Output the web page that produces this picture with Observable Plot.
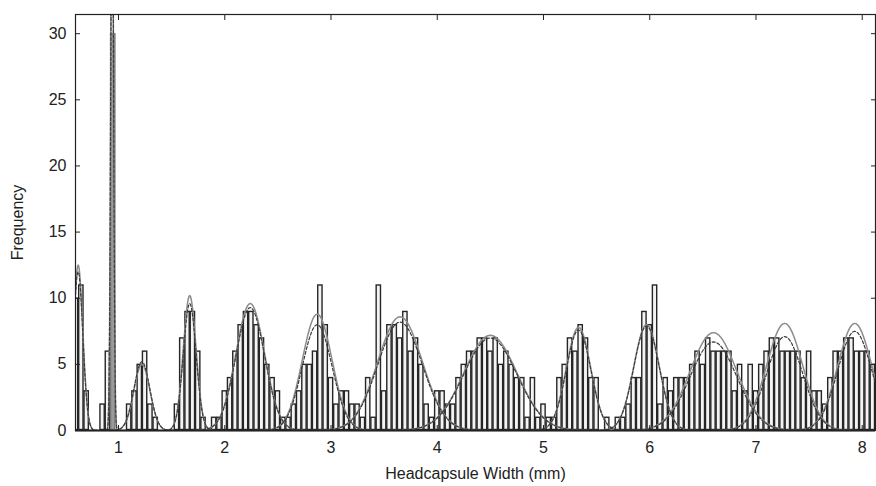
<!DOCTYPE html>
<html><head><meta charset="utf-8">
<script src="https://cdn.jsdelivr.net/npm/d3@7"></script>
<script src="https://cdn.jsdelivr.net/npm/@observablehq/plot@0.6"></script>
<style>body{margin:0;background:#fff}</style>
</head><body><div id="chart"></div>
<script>
// Histogram: bins of width 0.05 mm, first bin centred at 0.60 mm
const binStart = 0.60;
const binWidth = 0.05;
const counts = [
  10, 11, 3, 0, 0, 2, 6, 30,                                   // 0.60–0.95
  0, 0, 2, 3, 5, 6, 2, 1, 0, 0, 0, 2, 7, 9, 9, 6, 1, 0, 1, 1,    // 1.00–1.95
  3, 4, 6, 8, 9, 9, 8, 7, 5, 4, 3, 1, 1, 2, 3, 5, 5, 6, 11, 8,   // 2.00–2.95
  4, 2, 3, 3, 2, 2, 1, 4, 1, 11, 3, 8, 8, 7, 9, 6, 7, 5, 2, 1,   // 3.00–3.95
  3, 3, 2, 2, 4, 5, 6, 6, 7, 7, 6, 7, 5, 6, 5, 4, 4, 1, 4, 1,    // 4.00–4.95
  2, 1, 1, 4, 5, 7, 6, 8, 7, 4, 4, 0, 1, 0, 1, 1, 2, 4, 4, 9,    // 5.00–5.95
  8, 11, 2, 4, 3, 4, 4, 4, 5, 6, 5, 7, 6, 6, 6, 6, 3, 5, 3, 5,   // 6.00–6.95
  3, 5, 6, 7, 7, 6, 6, 6, 6, 4, 6, 3, 3, 2, 4, 6, 6, 7, 7, 6,    // 7.00–7.95
  6, 6, 5, 5                                                   // 8.00–8.15
];

// Fitted normal components (one per instar)
const compMeans = [0.62, 0.94, 1.22, 1.67, 2.24, 2.87, 3.65, 4.50, 5.33, 5.97, 6.60, 7.27, 7.93];
const compSds   = [0.044, 0.013, 0.075, 0.060, 0.135, 0.140, 0.210, 0.250, 0.115, 0.120, 0.220, 0.170, 0.160];
const peaksFitA = [12.5, 45, 5.0, 10.2, 9.6, 8.8, 8.6, 7.2, 7.8, 8.0, 7.4, 8.1, 8.1];   // solid grey fit
const peaksFitB = [12.0, 45, 5.2, 9.6, 9.3, 8.0, 8.2, 7.0, 7.6, 7.9, 6.7, 7.1, 7.5];    // dashed dark fit

const xTicks = [1, 2, 3, 4, 5, 6, 7, 8];
const yTicks = [0, 5, 10, 15, 20, 25, 30];

const bins = counts.map((n, i) => {
  const c = binStart + i * binWidth;
  return {x1: c - binWidth / 2, x2: c + binWidth / 2, n};
});

function curve(peaks, fit) {
  const out = [];
  compMeans.forEach((m, k) => {
    const s = compSds[k];
    const steps = 80;
    for (let j = 0; j <= steps; j++) {
      const x = m - 4 * s + (8 * s * j) / steps;
      out.push({comp: k, fit, x, y: peaks[k] * Math.exp(-((x - m) ** 2) / (2 * s * s))});
    }
  });
  return out;
}
const fitA = curve(peaksFitA, "A");
const fitB = curve(peaksFitB, "B");

const chart = Plot.plot({
  width: 876,
  height: 486,
  marginLeft: 75,
  marginRight: 1,
  marginTop: 14,
  marginBottom: 56,
  style: {fontFamily: "'Liberation Sans', Arial, Helvetica, sans-serif", fontSize: "16px", color: "#222", background: "#fff"},
  x: {domain: [0.595, 8.125]},
  y: {domain: [0, 31.45]},
  marks: [
    Plot.rectY(bins, {
      x1: "x1", x2: "x2", y: "n",
      fill: d => d.n > 20 ? "#9a9a9a" : "#f4f4f4",
      stroke: d => d.n > 20 ? "#777" : "#262626",
      strokeWidth: 1.4,
      inset: 0.5,
      clip: true
    }),
    Plot.line(fitA, {x: "x", y: "y", z: "comp", stroke: "#8c8c8c", strokeWidth: 1.5, clip: true}),
    Plot.line(fitB, {x: "x", y: "y", z: "comp", stroke: "#3c3c3c", strokeWidth: 1.2, strokeDasharray: "3,2", clip: true}),
    Plot.frame({stroke: "#222", strokeWidth: 1.2}),
    Plot.ruleY([0], {stroke: "#222", strokeWidth: 2}),
    Plot.axisY(yTicks, {anchor: "left", tickSize: -5, tickPadding: 14, label: "Frequency", labelAnchor: "center", labelArrow: "none", labelOffset: 64, fontSize: 16}),
    Plot.axisY(yTicks, {anchor: "right", tickSize: -5, tickFormat: () => "", label: null}),
    Plot.axisX(xTicks, {anchor: "bottom", tickSize: -5, tickPadding: 16, label: "Headcapsule Width (mm)", labelAnchor: "center", labelArrow: "none", labelOffset: 48, fontSize: 16}),
    Plot.axisX(xTicks, {anchor: "top", tickSize: -5, tickFormat: () => "", label: null})
  ]
});
document.getElementById("chart").append(chart);
</script></body></html>
